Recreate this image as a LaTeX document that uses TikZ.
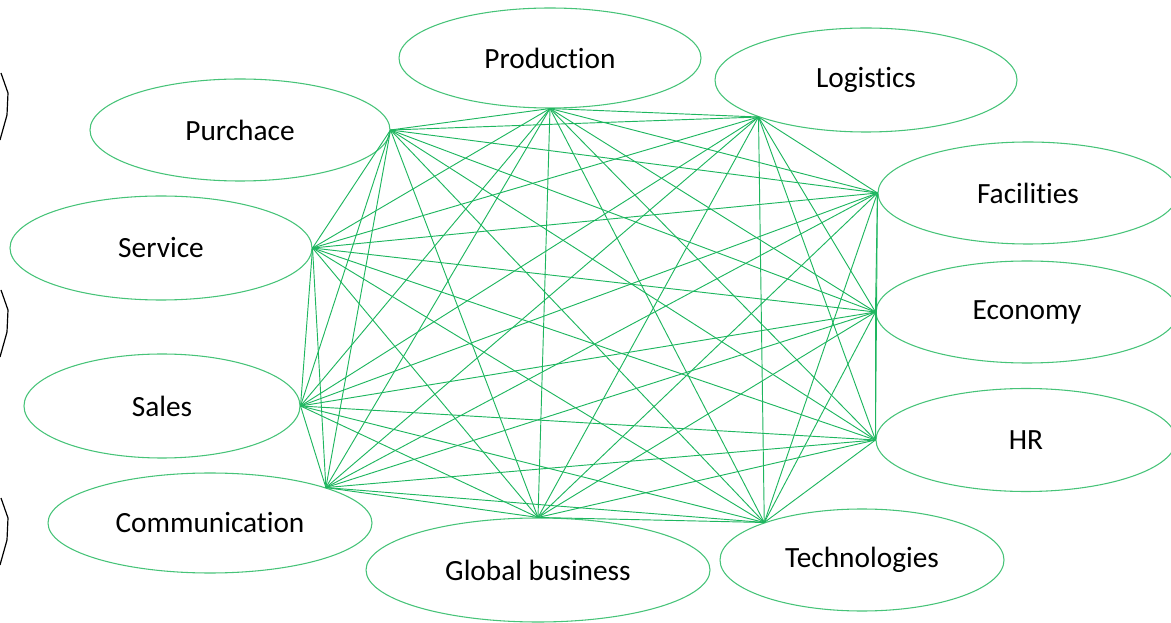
\documentclass[tikz,border=0pt]{standalone}
\usepackage{fontspec}
\setmainfont[Ligatures=NoCommon]{Carlito}
\usetikzlibrary{shapes.geometric}
\definecolor{linkgreen}{RGB}{30,182,95}
\definecolor{ovalgreen}{RGB}{70,195,120}
\tikzset{
  dept/.style={ellipse, draw=ovalgreen, line width=0.8pt, inner sep=0pt,
    font=\fontsize{22}{26}\selectfont},
  link/.style={draw=linkgreen, line width=0.7pt}
}
\begin{document}
\begin{tikzpicture}[x=0.75pt,y=-0.75pt]
	\useasboundingbox (0,0) rectangle (1171,623);
	% Ovais dos departamentos (medidas em pt = 0.75 px)
	\node[dept, minimum width=226.5pt, minimum height=75pt] (prod) at (550,58) {Production};
	\node[dept, minimum width=226.5pt, minimum height=78pt] (logi) at (866,80) {Logistics};
	\node[dept, minimum width=225pt, minimum height=76.5pt] (purc) at (240,130) {Purchace};
	\node[dept, minimum width=225pt, minimum height=76.5pt] (faci) at (1028,193) {Facilities};
	\node[dept, minimum width=226.5pt, minimum height=78pt] (serv) at (161,248) {Service};
	\node[dept, minimum width=226.5pt, minimum height=76.5pt] (econ) at (1027,312) {Economy};
	\node[dept, minimum width=207pt, minimum height=78pt] (sale) at (162,406) {Sales};
	\node[dept, minimum width=225pt, minimum height=77.25pt] (hr) at (1026,440) {HR};
	\node[dept, minimum width=243pt, minimum height=75pt] (comm) at (210,523) {Communication};
	\node[dept, minimum width=258pt, minimum height=78pt] (glob) at (538,570) {Global business};
	\node[dept, minimum width=213pt, minimum height=76.5pt] (tech) at (862,560) {Technologies};
	
	% Pontos de ligação
	\coordinate (c1) at (purc.east);
	\coordinate (c2) at (prod.south);
	\coordinate (c3) at (logi.199);
	\coordinate (c4) at (faci.west);
	\coordinate (c5) at (econ.west);
	\coordinate (c6) at (hr.west);
	\coordinate (c7) at (tech.159);
	\coordinate (c8) at (glob.north);
	\coordinate (c9) at (comm.17);
	\coordinate (c10) at (sale.east);
	\coordinate (c11) at (serv.east);
	
	% Todas as ligações
	\foreach \i in {1,...,10}{
		\pgfmathtruncatemacro\nxt{\i+1}
		\foreach \j in {\nxt,...,11}{
			\draw[link] (c\i) -- (c\j);
		}
	}
	
	% Hexágonos cortados na margem
	\foreach \y in {60,277,485}{
		\draw[line width=0.9pt] (1,\y+13) -- (8,\y+33) -- (7,\y+55) -- (0,\y+80);
	}
\end{tikzpicture}
\end{document}
